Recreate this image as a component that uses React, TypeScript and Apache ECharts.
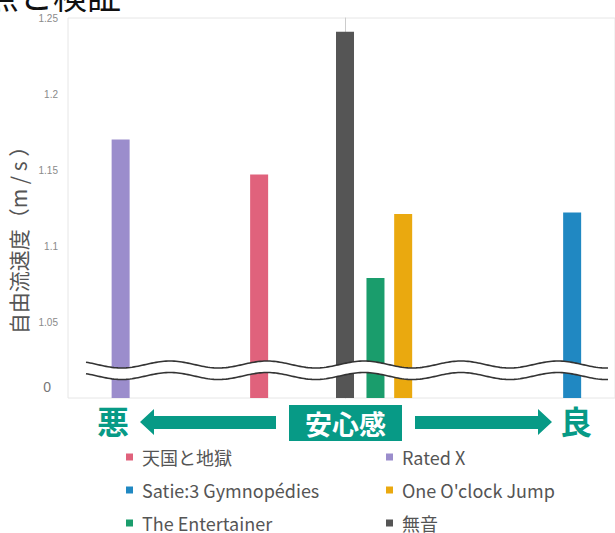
import React, { useEffect, useRef } from "react";
import * as echarts from "echarts";

const categories = ["天国と地獄", "Rated X", "Satie:3 Gymnopédies", "One O'clock Jump", "The Entertainer", "無音"];
const comfortScores = [-0.31, -0.81, 0.82, 0.21, 0.11, 0];
const speeds = [1.147, 1.17, 1.122, 1.121, 1.079, 1.241];
const colors = ["#e0627c", "#9b8dcc", "#2088c2", "#eaa90f", "#1a9d6c", "#555555"];
const legendLeft = ["天国と地獄", "Satie:3 Gymnopédies", "The Entertainer"];
const legendRight = ["Rated X", "One O'clock Jump", "無音"];
const yTicks = { min: 1, max: 1.25, interval: 0.05 };

const TEAL = "#079a86";
const FONT = "'Noto Sans CJK JP', 'Noto Sans', sans-serif";

function wavePoints(x0: number, x1: number, offset: number) {
  const pts: number[][] = [];
  for (let x = x0; x <= x1; x += 2) {
    pts.push([x, 364.5 + offset - 3.5 * Math.cos((2 * Math.PI * (x - 170)) / 97)]);
  }
  return pts;
}

export default function App() {
  const ref = useRef<HTMLDivElement>(null);
  useEffect(() => {
    if (!ref.current) return;
    const chart = echarts.init(ref.current, null, { renderer: "svg" });
    const upper = wavePoints(78, 609, 0);
    const lower = wavePoints(78, 609, 11.5);
    const band = upper.concat(lower.slice().reverse());
    const series = categories.map((name, i) => ({
      name,
      type: "bar",
      barWidth: 18,
      barGap: "-100%",
      itemStyle: { color: colors[i] },
      data: [[comfortScores[i], speeds[i]]],
    }));
    const legendBase = {
      orient: "vertical",
      top: 448,
      height: 84,
      padding: 0,
      icon: "rect",
      itemWidth: 7,
      itemHeight: 7,
      itemGap: 15,
      textStyle: { fontSize: 18, color: "#555", fontFamily: FONT, lineHeight: 18, padding: [0, 0, 0, 4] },
    };
    chart.setOption({
      animation: false,
      grid: { left: 68, right: 0, top: 18, bottom: 135, show: true, borderColor: "#e6e6e6", borderWidth: 1 },
      xAxis: {
        type: "value",
        min: -1,
        max: 0.9747,
        show: false,
        splitLine: { show: false },
      },
      yAxis: {
        type: "value",
        min: yTicks.min,
        max: yTicks.max,
        interval: yTicks.interval,
        splitLine: { show: false },
        axisTick: { show: false },
        axisLine: { show: true, onZero: true, lineStyle: { color: "#cccccc" } },
        axisLabel: {
          margin: 10,
          fontSize: 10,
          color: "#8a8a8a",
          fontFamily: "'Liberation Sans', sans-serif",
          formatter: (v: number) =>
            Math.abs(v - 1) < 1e-9 ? "{z|0}" : String(parseFloat(v.toFixed(2))),
          rich: { z: { fontSize: 14, color: "#777", padding: [0, 7, 22, 0] } },
        },
      },
      legend: [
        { ...legendBase, left: 126, data: legendLeft },
        { ...legendBase, left: 386, data: legendRight },
      ],
      series,
      graphic: [
        {
          type: "text",
          z: 100,
          style: { x: -15, y: 11, text: "点と検証", fontSize: 34, fill: "#111", fontFamily: FONT, textVerticalAlign: "bottom" },
        },
        {
          type: "text",
          z: 100,
          x: 18,
          y: 235,
          rotation: Math.PI / 2,
          style: { x: 0, y: 0, text: "自由流速度（m / s ）", fontSize: 21, fill: "#555", fontFamily: FONT, align: "center", verticalAlign: "middle" },
        },
        { type: "polygon", z: 100, shape: { points: band }, style: { fill: "#fff", stroke: "none" } },
        { type: "polyline", z: 101, shape: { points: wavePoints(86, 608, 0) }, style: { stroke: "#333", lineWidth: 1.6, fill: "none" } },
        { type: "polyline", z: 101, shape: { points: wavePoints(86, 608, 11.5) }, style: { stroke: "#333", lineWidth: 1.6, fill: "none" } },
        {
          type: "text",
          z: 100,
          style: { x: 113, y: 420, text: "悪", fontSize: 32, fontWeight: "bold", fill: TEAL, fontFamily: FONT, align: "center", verticalAlign: "middle" },
        },
        {
          type: "polygon",
          z: 100,
          shape: { points: [[140, 422], [154, 409], [154, 416], [276, 416], [276, 429], [154, 429], [154, 435]] },
          style: { fill: TEAL },
        },
        { type: "rect", z: 100, shape: { x: 289, y: 405, width: 113, height: 36 }, style: { fill: TEAL } },
        {
          type: "text",
          z: 101,
          style: { x: 345.5, y: 423, text: "安心感", fontSize: 27, fontWeight: "bold", fill: "#fff", fontFamily: FONT, align: "center", verticalAlign: "middle" },
        },
        {
          type: "polygon",
          z: 100,
          shape: { points: [[415, 416], [538, 416], [538, 409], [552, 422], [538, 435], [538, 429], [415, 429]] },
          style: { fill: TEAL },
        },
        {
          type: "text",
          z: 100,
          style: { x: 576, y: 420, text: "良", fontSize: 32, fontWeight: "bold", fill: TEAL, fontFamily: FONT, align: "center", verticalAlign: "middle" },
        },
      ],
    });
    return () => chart.dispose();
  }, []);
  return <div ref={ref} style={{ position: "fixed", left: 0, top: 0, width: 615, height: 533, background: "#fff" }} />;
}
